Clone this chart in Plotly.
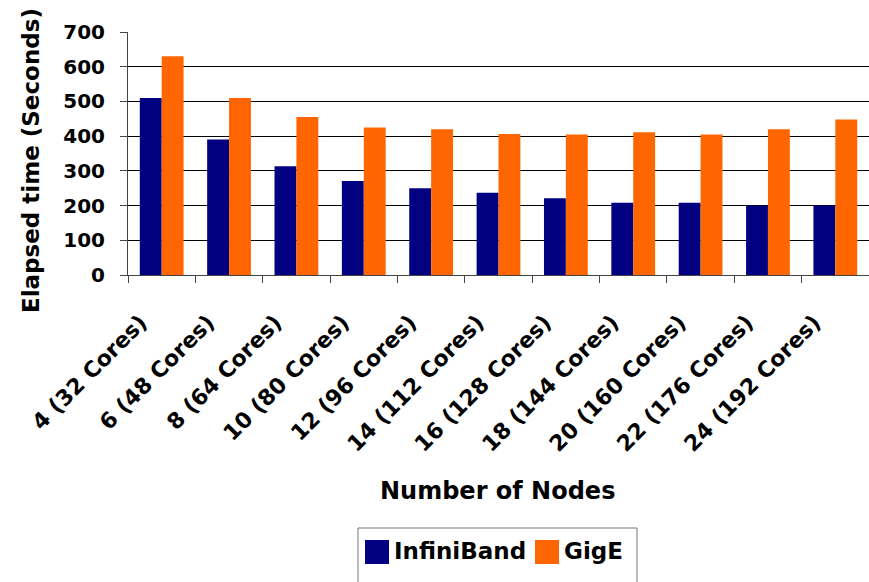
import plotly.graph_objects as go

# Cluster sizes and measured wall-clock times
nodes = ["4 (32 Cores)", "6 (48 Cores)", "8 (64 Cores)", "10 (80 Cores)",
         "12 (96 Cores)", "14 (112 Cores)", "16 (128 Cores)", "18 (144 Cores)",
         "20 (160 Cores)", "22 (176 Cores)", "24 (192 Cores)"]
infiniband = [510, 390, 313, 271, 250, 237, 221, 208, 208, 200, 200]
gige = [630, 510, 455, 425, 420, 406, 405, 411, 405, 420, 448]
y_ticks = [0, 100, 200, 300, 400, 500, 600, 700]

series_names = ["InfiniBand", "GigE"]
series_colors = ["#000080", "#FF6600"]

W, H = 869, 582
ML, MR, MT, MB = 128, 0, 32, 307
FONT = "DejaVu Sans"


def px_x(p):
    return (p - ML) / (W - ML - MR)


def px_y(p):
    return (H - MB - p) / (H - MT - MB)


fig = go.Figure()
for name, vals, col in zip(series_names, [infiniband, gige], series_colors):
    fig.add_trace(go.Bar(x=nodes, y=vals, name=name, marker_color=col,
                         marker_line_width=0, showlegend=False))

fig.update_layout(
    width=W, height=H,
    margin=dict(l=ML, r=MR, t=MT, b=MB, pad=0),
    paper_bgcolor="white", plot_bgcolor="white",
    barmode="group", bargap=0.35, bargroupgap=0,
    font=dict(family=FONT, color="black", weight="bold"),
)

fig.update_yaxes(
    range=[0, 700], tickvals=y_ticks, ticktext=[str(v) for v in y_ticks],
    showgrid=True, gridcolor="black", gridwidth=1,
    showline=True, linecolor="#444", linewidth=1,
    ticks="outside", ticklen=7, tickcolor="#444",
    ticklabelstandoff=11,
    tickfont=dict(family=FONT, size=20, color="black", weight="bold"),
    zeroline=False,
)
fig.update_xaxes(
    type="category", tickson="boundaries",
    showline=True, linecolor="#444", linewidth=1,
    ticks="outside", ticklen=7, tickcolor="#444",
    tickangle=-45, ticklabelstandoff=25, ticklabelshift=-21,
    tickfont=dict(family=FONT, size=22, color="black", weight="bold"),
    showgrid=False,
)

annotations = [
    dict(text="Number of Nodes", x=px_x(497), y=px_y(491), xref="paper", yref="paper",
         showarrow=False, xanchor="center", yanchor="middle",
         font=dict(family=FONT, size=24, color="black", weight="bold")),
    dict(text="Elapsed time (Seconds)", x=px_x(31), y=px_y(161), xref="paper", yref="paper",
         showarrow=False, xanchor="center", yanchor="middle", textangle=-90,
         font=dict(family=FONT, size=23, color="black", weight="bold")),
]

# Legend box drawn below the axis title
shapes = [
    dict(type="rect", xref="paper", yref="paper",
         x0=px_x(358), x1=px_x(637), y0=px_y(590), y1=px_y(528),
         line=dict(color="#777", width=1), fillcolor="white"),
]
legend_items = [(365, 392), (535, 562)]
for (sx, tx), name, col in zip(legend_items, series_names, series_colors):
    shapes.append(dict(type="rect", xref="paper", yref="paper",
                       x0=px_x(sx), x1=px_x(sx + 24), y0=px_y(564), y1=px_y(540),
                       line=dict(width=0), fillcolor=col))
    annotations.append(dict(text=name, x=px_x(tx), y=px_y(551), xref="paper", yref="paper",
                            showarrow=False, xanchor="left", yanchor="middle",
                            font=dict(family=FONT, size=23, color="black", weight="bold")))

fig.update_layout(shapes=shapes, annotations=annotations)
fig.write_html("out.html")
